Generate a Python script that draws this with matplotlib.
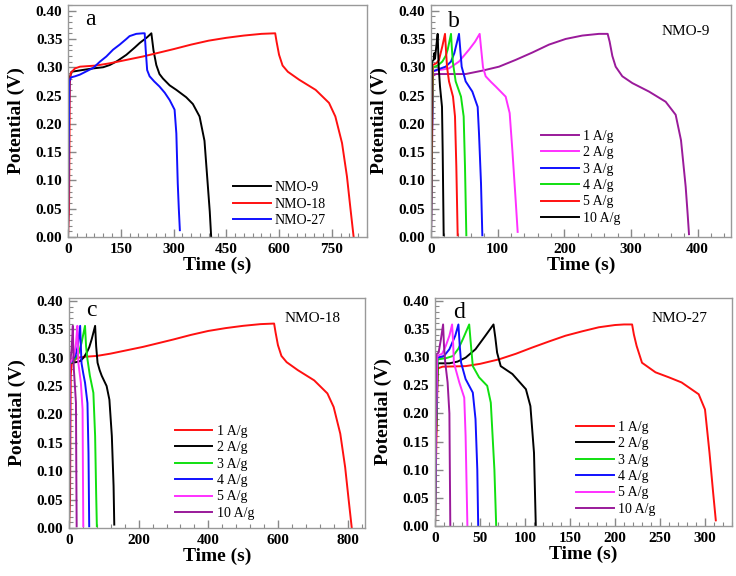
import matplotlib
matplotlib.use("Agg")
import matplotlib.pyplot as plt
from matplotlib.ticker import MultipleLocator

plt.rcParams['font.family'] = ['Liberation Serif', 'DejaVu Serif']
plt.rcParams['mathtext.fontset'] = 'stix'

# ---------------- Panel a ----------------
a_nmo9_t = [0, 2, 4, 10, 40, 72, 100, 119, 140, 166, 190, 204, 225, 237, 243, 251, 260, 270, 289, 308, 336, 355, 374, 388, 397, 403, 407]
a_nmo9_v = [0.0, 0.20, 0.28, 0.292, 0.295, 0.298, 0.300, 0.304, 0.311, 0.322, 0.335, 0.343, 0.353, 0.360, 0.330, 0.304, 0.288, 0.280, 0.268, 0.260, 0.247, 0.235, 0.213, 0.17, 0.095, 0.045, 0.0]
a_nmo18_t = [0, 3, 5, 8, 20, 34, 80, 119, 166, 213, 260, 300, 350, 400, 450, 500, 550, 589, 593, 600, 610, 625, 657, 704, 742, 760, 779, 793, 803, 812]
a_nmo18_v = [0, 0.05, 0.27, 0.29, 0.298, 0.301, 0.303, 0.307, 0.313, 0.319, 0.326, 0.332, 0.340, 0.347, 0.352, 0.356, 0.359, 0.360, 0.345, 0.322, 0.303, 0.292, 0.278, 0.260, 0.237, 0.213, 0.166, 0.107, 0.05, 0.0]
a_nmo27_t = [0, 2, 4, 8, 20, 34, 53, 72, 91, 109, 128, 147, 166, 175, 194, 213, 218, 221, 225, 232, 245, 260, 275, 289, 303, 308, 312, 315, 318]
a_nmo27_v = [0, 0.15, 0.275, 0.282, 0.284, 0.287, 0.293, 0.299, 0.310, 0.319, 0.331, 0.340, 0.350, 0.355, 0.359, 0.360, 0.360, 0.33, 0.295, 0.284, 0.275, 0.266, 0.255, 0.242, 0.225, 0.183, 0.095, 0.05, 0.012]
a_labels = ['NMO-9', 'NMO-18', 'NMO-27']

# ---------------- Panel b (NMO-9) ----------------
b1_t = [0, 1.5, 3, 7.5, 30, 52, 77, 102, 127, 152, 177, 202, 227, 252, 265, 268, 272, 277, 287, 302, 327, 352, 367, 375, 382, 385, 387]
b1_v = [0, 0.15, 0.285, 0.288, 0.288, 0.288, 0.294, 0.301, 0.313, 0.326, 0.340, 0.350, 0.356, 0.359, 0.359, 0.345, 0.320, 0.301, 0.284, 0.272, 0.257, 0.239, 0.216, 0.171, 0.089, 0.04, 0.005]
b2_t = [0, 1, 3, 12, 27, 42, 57, 66, 73, 75, 78, 82, 90, 97, 112, 118, 122, 127, 130]
b2_v = [0, 0.15, 0.293, 0.295, 0.298, 0.310, 0.331, 0.345, 0.359, 0.335, 0.30, 0.284, 0.274, 0.266, 0.248, 0.219, 0.154, 0.065, 0.009]
b3_t = [0, 1, 3, 10, 22, 30, 35, 42, 44, 46, 52, 62, 70, 72, 75, 77]
b3_v = [0, 0.15, 0.293, 0.296, 0.301, 0.31, 0.325, 0.359, 0.33, 0.301, 0.275, 0.257, 0.230, 0.183, 0.095, 0.003]
b4_t = [0, 1, 3, 10, 17, 22, 25, 30, 31.5, 33, 37, 45, 49, 51, 53]
b4_v = [0, 0.15, 0.30, 0.303, 0.31, 0.32, 0.331, 0.359, 0.33, 0.307, 0.275, 0.248, 0.213, 0.124, 0.003]
b5_t = [0, 0.8, 2.5, 8, 12, 17, 21, 22.5, 24, 27, 33, 36, 38, 40]
b5_v = [0, 0.15, 0.304, 0.307, 0.313, 0.337, 0.359, 0.33, 0.301, 0.275, 0.248, 0.213, 0.124, 0.003]
b10_t = [0, 0.5, 1.5, 4, 5, 6, 8.5, 10, 11.5, 13.5, 16.5, 17.5, 19]
b10_v = [0, 0.15, 0.31, 0.313, 0.325, 0.315, 0.343, 0.359, 0.301, 0.266, 0.230, 0.154, 0.003]

# ---------------- Panel c (NMO-18) ----------------
c1_t = a_nmo18_t
c1_v = a_nmo18_v
c2_t = [0, 1, 3, 8, 20, 32, 42, 51, 58, 65, 75, 78, 82, 88, 94, 108, 116, 123, 128, 130]
c2_v = [0, 0.15, 0.29, 0.291, 0.292, 0.294, 0.300, 0.309, 0.318, 0.332, 0.356, 0.32, 0.291, 0.278, 0.268, 0.25, 0.226, 0.162, 0.074, 0.006]
c3_t = [0, 1, 3, 10, 17, 28, 36, 46, 49, 53, 60, 70, 75, 78, 80]
c3_v = [0, 0.15, 0.29, 0.293, 0.297, 0.308, 0.326, 0.356, 0.32, 0.297, 0.268, 0.238, 0.162, 0.06, 0.003]
c4_t = [0, 1, 3, 10, 18, 25, 32, 34, 36, 41, 46, 53, 56, 58]
c4_v = [0, 0.15, 0.29, 0.295, 0.302, 0.32, 0.356, 0.32, 0.290, 0.272, 0.256, 0.22, 0.132, 0.003]
c5_t = [0, 1, 3, 10, 15, 20, 24, 25.5, 27, 34, 39, 40, 41]
c5_v = [0, 0.15, 0.29, 0.298, 0.305, 0.325, 0.356, 0.32, 0.290, 0.256, 0.209, 0.1, 0.003]
c10_t = [0, 0.5, 2, 5, 8, 11, 12.5, 14, 17, 20, 21, 22]
c10_v = [0, 0.15, 0.295, 0.30, 0.32, 0.356, 0.31, 0.279, 0.25, 0.22, 0.1, 0.003]

# ---------------- Panel d (NMO-27) ----------------
d1_t = [0, 1.5, 3, 8.5, 34, 50, 71, 90, 108, 127, 145, 164, 182, 200, 210, 219, 221, 224, 230, 245, 260, 274, 293, 300, 305, 309, 312]
d1_v = [0, 0.15, 0.28, 0.283, 0.284, 0.288, 0.296, 0.306, 0.317, 0.328, 0.338, 0.346, 0.353, 0.357, 0.358, 0.358, 0.34, 0.32, 0.290, 0.273, 0.264, 0.255, 0.234, 0.207, 0.13, 0.06, 0.01]
d2_t = [0, 1, 3, 16, 25, 34, 45, 56, 65, 67, 69, 73, 86, 101, 106, 110, 112]
d2_v = [0, 0.15, 0.289, 0.289, 0.292, 0.299, 0.314, 0.338, 0.358, 0.335, 0.308, 0.284, 0.270, 0.243, 0.213, 0.130, 0.0]
d3_t = [0, 1, 3, 12, 20, 26, 31, 38, 40, 42, 49, 58, 62, 66, 68]
d3_v = [0, 0.15, 0.296, 0.298, 0.302, 0.315, 0.332, 0.358, 0.32, 0.284, 0.264, 0.249, 0.219, 0.10, 0.0]
d4_t = [0, 0.8, 2.5, 10, 16, 22.5, 26, 27.5, 29, 34, 42, 45, 47, 48]
d4_v = [0, 0.15, 0.299, 0.302, 0.314, 0.338, 0.358, 0.32, 0.29, 0.261, 0.237, 0.19, 0.10, 0.0]
d5_t = [0, 0.8, 2.5, 8, 12, 16, 19, 20, 21, 27, 32.5, 34, 36]
d5_v = [0, 0.15, 0.302, 0.306, 0.32, 0.338, 0.358, 0.33, 0.29, 0.255, 0.228, 0.16, 0.0]
d10_t = [0, 0.5, 1.5, 4, 6.6, 9, 10, 11.4, 14, 16, 17]
d10_v = [0, 0.15, 0.305, 0.308, 0.332, 0.358, 0.32, 0.29, 0.255, 0.2, 0.0]

rate_labels = ['1 A/g', '2 A/g', '3 A/g', '4 A/g', '5 A/g', '10 A/g']

RED = '#ff1010'
BLACK = '#000000'
BLUE = '#1010ff'
GREEN = '#10e010'
MAGENTA = '#ff30ff'
PURPLE = '#9a1a9a'

W, H = 736, 576
fig = plt.figure(figsize=(W / 100, H / 100), dpi=100)


def px_axes(l, r, t, b):
    return fig.add_axes([l / W, (H - b) / H, (r - l) / W, (b - t) / H])


def style(ax, xmax, xmaj, xmin, ytop):
    ax.set_xlim(0, xmax)
    ax.set_ylim(0, ytop)
    ax.xaxis.set_major_locator(MultipleLocator(xmaj))
    ax.xaxis.set_minor_locator(MultipleLocator(xmin))
    ax.yaxis.set_major_locator(MultipleLocator(0.05))
    ax.yaxis.set_minor_locator(MultipleLocator(0.01))
    ax.yaxis.set_major_formatter(plt.FuncFormatter(lambda v, p: f'{v:.2f}'))
    for s in ax.spines.values():
        s.set_color('#999999')
        s.set_linewidth(1.0)
    ax.tick_params(which='both', direction='in', color='#888888', top=False, right=False)
    ax.tick_params(which='major', length=6, width=1.0, labelsize=11, pad=4)
    ax.tick_params(which='minor', length=3, width=0.8)
    for lab in ax.get_xticklabels() + ax.get_yticklabels():
        lab.set_fontweight('bold')
    ax.set_xlabel('Time (s)', fontsize=14, fontweight='bold', labelpad=1)
    ax.set_ylabel('Potential (V)', fontsize=14, fontweight='bold', labelpad=8)


def legend(ax, x, y):
    ax.legend(loc='lower left', bbox_to_anchor=(x, y), frameon=False, fontsize=10,
              handlelength=2.7, handletextpad=0.3, labelspacing=0.25,
              borderpad=0, borderaxespad=0)


LW = 1.4

# a
ax = px_axes(68, 367, 5, 237)
ax.plot(a_nmo9_t, a_nmo9_v, color=BLACK, lw=LW, label=a_labels[0])
ax.plot(a_nmo18_t, a_nmo18_v, color=RED, lw=LW, label=a_labels[1])
ax.plot(a_nmo27_t, a_nmo27_v, color=BLUE, lw=LW, label=a_labels[2])
style(ax, 850, 150, 25, 0.41)
legend(ax, 0.552, 0.043)
ax.text(0.057, 0.914, 'a', transform=ax.transAxes, fontsize=17, ha='left', va='baseline')

# b
ax = px_axes(431, 731, 5, 237)
for (t, v, c, lab) in [(b1_t, b1_v, PURPLE, rate_labels[0]), (b2_t, b2_v, MAGENTA, rate_labels[1]),
                       (b3_t, b3_v, BLUE, rate_labels[2]), (b4_t, b4_v, GREEN, rate_labels[3]),
                       (b5_t, b5_v, RED, rate_labels[4]), (b10_t, b10_v, BLACK, rate_labels[5])]:
    ax.plot(t, v, color=c, lw=LW, label=lab)
style(ax, 450, 100, 20, 0.41)
legend(ax, 0.367, 0.052)
ax.text(0.057, 0.905, 'b', transform=ax.transAxes, fontsize=17, ha='left', va='baseline')
ax.text(0.85, 0.884, 'NMO-9', transform=ax.transAxes, fontsize=11, ha='center', va='center')

# c
ax = px_axes(69, 365, 298, 528)
for (t, v, c, lab) in [(c1_t, c1_v, RED, rate_labels[0]), (c2_t, c2_v, BLACK, rate_labels[1]),
                       (c3_t, c3_v, GREEN, rate_labels[2]), (c4_t, c4_v, BLUE, rate_labels[3]),
                       (c5_t, c5_v, MAGENTA, rate_labels[4]), (c10_t, c10_v, PURPLE, rate_labels[5])]:
    ax.plot(t, v, color=c, lw=LW, label=lab)
style(ax, 850, 200, 40, 0.405)
legend(ax, 0.358, 0.035)
ax.text(0.057, 0.92, 'c', transform=ax.transAxes, fontsize=17, ha='left', va='baseline')
ax.text(0.824, 0.913, 'NMO-18', transform=ax.transAxes, fontsize=11, ha='center', va='center')

# d
ax = px_axes(435, 732, 298, 526)
for (t, v, c, lab) in [(d1_t, d1_v, RED, rate_labels[0]), (d2_t, d2_v, BLACK, rate_labels[1]),
                       (d3_t, d3_v, GREEN, rate_labels[2]), (d4_t, d4_v, BLUE, rate_labels[3]),
                       (d5_t, d5_v, MAGENTA, rate_labels[4]), (d10_t, d10_v, PURPLE, rate_labels[5])]:
    ax.plot(t, v, color=c, lw=LW, label=lab)
style(ax, 330, 50, 10, 0.405)
legend(ax, 0.475, 0.044)
ax.text(0.06, 0.912, 'd', transform=ax.transAxes, fontsize=17, ha='left', va='baseline')
ax.text(0.822, 0.912, 'NMO-27', transform=ax.transAxes, fontsize=11, ha='center', va='center')

fig.savefig('out.png', dpi=100)
